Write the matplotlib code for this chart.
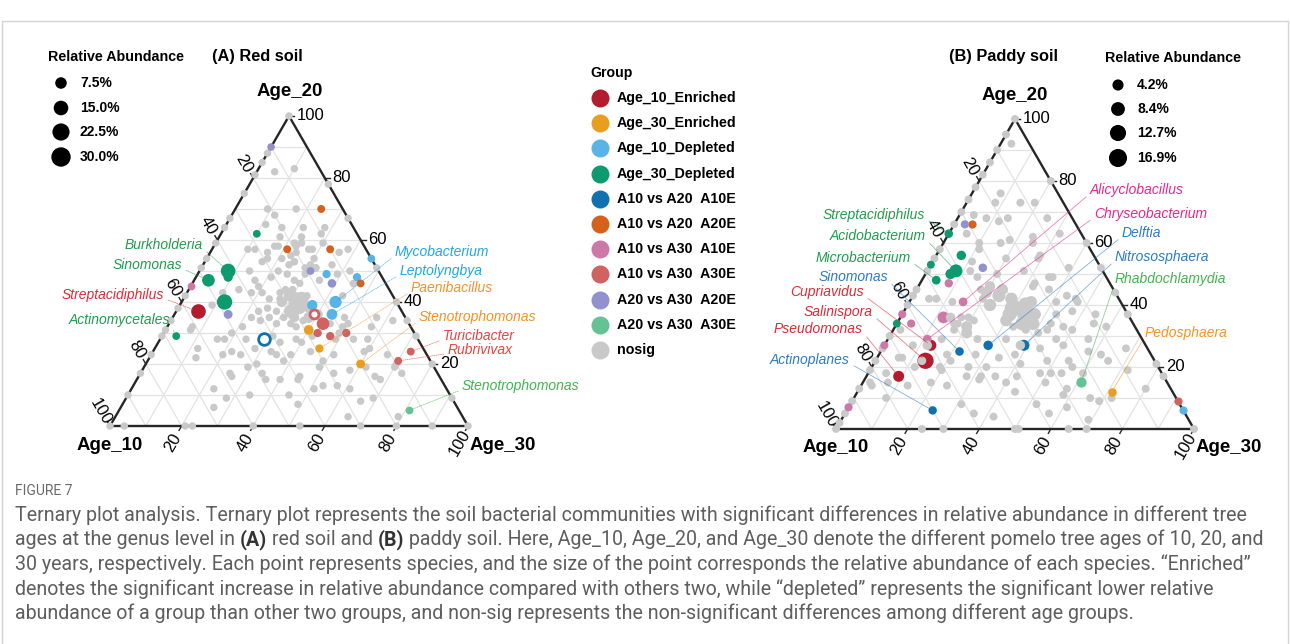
import numpy as np
import matplotlib.pyplot as plt
from matplotlib import font_manager

plt.rcParams['font.family'] = ['Liberation Sans', 'DejaVu Sans']

FIG_W, FIG_H = 1290, 644
H = np.sqrt(3) / 2

# ---- groups / colours
group_keys = ["E10", "E30", "D10", "D30", "AB10", "AB20", "AC10", "AC30", "BC20", "BC30", "NS"]
group_names = ["Age_10_Enriched", "Age_30_Enriched", "Age_10_Depleted", "Age_30_Depleted",
               "A10 vs A20  A10E", "A10 vs A20  A20E", "A10 vs A30  A10E", "A10 vs A30  A30E",
               "A20 vs A30  A20E", "A20 vs A30  A30E", "nosig"]
group_colors = ["#b21c2d", "#e89e1f", "#58b3e6", "#0c9a6e", "#1070b0", "#d6611d",
                "#cc79a8", "#d06262", "#9191cd", "#64c295", "#c9c9c9"]
label_colors = {"E10": "#dc2a36", "E30": "#f39322", "D10": "#1fa7e8", "D30": "#1e9d4d",
                "AB10": "#2b7cc6", "AC10": "#e8268e", "AC30": "#e8423f", "BC30": "#41b54c"}

# ---- (A) red soil : significant genera (group, Age_10, Age_20, Age_30, abundance %, label)
red_sig = [
    ("BC20", 10, 90, 0, 0.5, ""), ("AB20", 6, 70, 24, 1.0, ""), ("AB20", 10, 57, 33, 1.0, ""),
    ("AB20", 7, 46, 47, 1.0, ""), ("AB20", 22, 57, 21, 1.0, ""), ("D30", 28, 62, 10, 0.8, ""),
    ("D30", 43, 48, 9, 3.0, ""), ("D30", 42, 50, 8, 15.0, "Burkholderia"),
    ("D30", 49, 47, 4, 10.0, "Sinomonas"), ("AC10", 55, 45, 0, 0.8, ""),
    ("D30", 48, 40, 12, 17.0, ""), ("BC20", 49, 36, 15, 2.5, ""),
    ("E10", 57, 37, 6, 15.0, "Streptacidiphilus"), ("D30", 67, 29, 4, 0.8, "Actinomycetales"),
    ("D10", 0, 54, 46, 0.8, ""), ("D10", 15, 49, 36, 1.5, ""), ("D10", 7, 48, 45, 1.5, ""),
    ("BC20", 19, 50, 31, 0.8, ""), ("BC20", 15, 46, 39, 2.0, ""), ("D10", 24, 39, 37, 5.0, ""),
    ("D10", 17, 40, 43, 9.0, "Mycobacterium"), ("D10", 20, 36, 44, 6.0, "Leptolyngbya"),
    ("E30", 29, 31, 40, 4.0, ""), ("AC30", 24, 33, 43, 10.0, ""), ("AC30", 27, 30, 43, 1.5, ""),
    ("AC30", 24, 29, 47, 1.5, ""), ("AC30", 19, 30, 51, 1.5, ""),
    ("E30", 29, 25, 46, 1.5, "Paenibacillus"), ("E30", 20, 20, 60, 2.5, "Stenotrophomonas"),
    ("AC30", 4, 24, 72, 1.0, "Turicibacter"), ("AC30", 9, 21, 70, 1.0, "Rubrivivax"),
    ("BC30", 14, 5, 81, 0.8, "Stenotrophomonas"),
]
red_ring = [("AB10", 43, 28, 29, 12.0), ("AC30", 25, 36, 39, 5.0)]

red_nosig = [
    (33, 57, 10), (31, 57, 12), (28, 56, 16), (25, 58, 17), (24, 58, 18), (22, 55, 23), (22, 53, 25),
    (20, 56, 24), (16, 57, 27), (16, 54, 30), (25, 54, 21), (29, 54, 17), (31, 53, 16), (36, 50, 14),
    (36, 47, 17), (36, 45, 19), (31, 48, 21), (28, 50, 22), (26, 49, 25), (25, 47, 28), (24, 46, 30),
    (21, 49, 30), (17, 51, 32), (18, 52, 30), (18, 47, 35), (39, 43, 18), (36, 43, 21), (35, 41, 24),
    (31, 43, 26), (29, 44, 27), (27, 44, 29), (27, 42, 31), (27, 40, 33), (24, 42, 34), (32, 41, 27),
    (40, 37, 23), (37, 38, 25), (35, 37, 28), (34, 35, 31), (33, 33, 34), (32, 32, 36), (29, 34, 37),
    (37, 33, 30), (38, 35, 27), (41, 34, 25), (43, 35, 22), (47, 32, 21), (51, 30, 19), (56, 28, 16),
    (63, 25, 12), (61, 32, 7), (54, 28, 18), (57, 23, 20), (54, 24, 22), (52, 23, 25), (48, 28, 24),
    (47, 25, 28), (40, 29, 31), (39, 27, 34), (43, 24, 33), (42, 23, 35), (41, 21, 38), (38, 23, 39),
    (34, 28, 38), (33, 27, 40), (32, 24, 44), (29, 29, 42), (30, 21, 49), (26, 23, 51), (23, 28, 49),
    (19, 32, 49), (17, 35, 48), (22, 33, 45), (18, 28, 54), (17, 24, 59), (14, 28, 58), (11, 32, 57),
    (8, 35, 57), (19, 19, 62), (32, 19, 49), (29, 17, 54), (24, 18, 58), (58, 17, 25), (58, 16, 26),
    (52, 19, 29), (49, 20, 31), (49, 17, 34), (49, 15, 36), (45, 15, 40), (45, 10, 45), (56, 10, 34),
    (44, 7, 49), (34, 13, 53), (30, 13, 57), (27, 12, 61), (22, 9, 69), (26, 8, 66), (37, 12, 51),
    (65, 12, 23), (68, 6, 26), (40, 15, 45), (42, 44, 14), (47, 43, 10), (52, 39, 9), (63, 9, 28),
    (39, 16, 45), (4, 34, 62), (11, 23, 66), (15, 25, 60), (18, 16, 66), (17, 15, 68), (11, 19, 70),
    (10, 17, 73), (10, 20, 70), (32, 3, 65), (18, 3, 79), (9, 46, 45), (14, 42, 44), (17, 33, 50),
    (21, 30, 49), (7, 83, 10), (13, 82, 5), (13, 70, 17), (21, 70, 9), (20, 68, 12), (24, 65, 11),
    (20, 64, 16), (14, 64, 22), (8, 64, 28), (10, 62, 28), (22, 61, 17), (16, 61, 23), (19, 58, 23),
    (17, 59, 24), (19, 59, 22), (15, 57, 28), (11, 59, 30), (8, 56, 36), (12, 52, 36), (5, 57, 38),
    (8, 50, 42), (12, 49, 39), (22, 53, 25), (24, 52, 24), (20, 51, 29), (17, 51, 32), (62, 31, 7),
    (65, 22, 13),
]
red_nosig_edge = [
    (12, 88, 0), (15, 85, 0), (19, 81, 0), (25, 75, 0), (33, 67, 0), (36, 64, 0), (41, 59, 0),
    (46, 54, 0), (49, 51, 0), (58, 42, 0), (62, 38, 0), (66, 34, 0), (69, 31, 0), (71, 29, 0),
    (77, 23, 0), (83, 17, 0), (90, 10, 0), (96, 0, 4), (79, 0, 21), (77, 0, 23), (60, 0, 40),
    (47, 0, 53), (30, 0, 70), (20, 0, 80), (10, 0, 90), (0, 78, 22), (0, 67, 33), (0, 51, 49),
    (0, 40, 60), (0, 34, 66), (0, 29, 71), (0, 20, 80), (0, 9, 91), (100, 0, 0), (0, 100, 0), (0, 0, 100),
]
# big non-significant genera (Age_10, Age_20, Age_30, abundance %)
red_nosig_big = [(28, 39, 33, 28.0), (26, 41, 33, 14.0), (31, 37, 32, 12.0), (25, 38, 37, 8.0),
                 (29, 42, 29, 6.0), (24, 36, 40, 5.0), (32, 40, 28, 5.0), (27, 35, 38, 6.0),
                 (31, 35, 34, 4.0)]
red_front = []

# ---- (B) paddy soil
paddy_sig = [
    ("BC20", 31, 66, 3, 0.6, ""), ("AB20", 29, 66, 5, 0.6, ""),
    ("D30", 37, 63, 0, 1.0, "Streptacidiphilus"), ("D30", 37, 56, 7, 2.0, ""),
    ("D30", 41, 51, 8, 7.0, "Acidobacterium"), ("D30", 43, 50, 7, 3.0, ""),
    ("D30", 48, 48, 4, 1.2, "Microbacterium"), ("D30", 47, 53, 0, 0.3, ""), ("D30", 66, 34, 0, 0.3, ""),
    ("BC20", 33, 52, 15, 1.0, ""), ("AC10", 45, 47, 8, 0.8, ""),
    ("AC10", 44, 41, 15, 1.2, "Alicyclobacillus"), ("AC10", 52, 36, 12, 5.0, ""),
    ("AC10", 63, 37, 0, 0.6, ""), ("AC10", 62, 34, 4, 0.6, ""),
    ("AC10", 60, 29, 11, 1.0, "Chryseobacterium"), ("E10", 60, 27, 13, 4.0, "Cupriavidus"),
    ("E10", 64, 22, 14, 13.0, "Salinispora"), ("E10", 74, 17, 9, 4.0, "Pseudomonas"),
    ("AC10", 73, 27, 0, 0.5, ""), ("AB10", 53, 25, 22, 1.0, "Sinomonas"),
    ("AB10", 44, 27, 29, 2.0, "Delftia"), ("AB10", 34, 27, 39, 4.0, "Nitrososphaera"),
    ("AB10", 70, 6, 24, 0.8, "Actinoplanes"), ("AC10", 93, 7, 0, 0.6, ""),
    ("BC30", 24, 15, 61, 3.0, "Rhabdochlamydia"), ("E30", 17, 12, 71, 1.0, "Pedosphaera"),
    ("AC30", 0, 9, 91, 0.6, ""), ("D10", 0, 6, 94, 0.6, ""),
]
paddy_ring = []

paddy_nosig = [
    (5, 92, 3), (16, 76, 8), (12, 73, 15), (19, 73, 8), (18, 68, 14), (21, 67, 12), (24, 68, 8),
    (7, 68, 25), (15, 60, 25), (15, 56, 29), (30, 60, 10), (31, 58, 11), (24, 60, 16), (25, 55, 20),
    (30, 50, 20), (35, 54, 11), (37, 51, 12), (36, 49, 15), (22, 51, 27), (21, 47, 32), (16, 49, 35),
    (18, 45, 37), (9, 52, 39), (12, 42, 46), (9, 37, 54), (11, 34, 55), (8, 33, 59), (6, 26, 68),
    (13, 22, 65), (17, 25, 58), (23, 27, 50), (24, 29, 47), (30, 26, 44), (28, 31, 41), (31, 32, 37),
    (34, 33, 33), (38, 29, 33), (38, 24, 38), (43, 23, 34), (38, 21, 41), (34, 18, 48), (28, 18, 54),
    (31, 11, 58), (24, 10, 66), (24, 20, 56), (22, 18, 60), (52, 16, 32), (57, 22, 21), (57, 24, 19),
    (53, 20, 27), (48, 20, 32), (49, 24, 27), (45, 36, 19), (44, 35, 21), (49, 34, 17), (51, 32, 17),
    (56, 29, 15), (70, 23, 7), (68, 20, 12), (78, 15, 7), (73, 14, 13), (66, 15, 19), (61, 19, 20),
    (83, 14, 3), (23, 34, 43), (28, 37, 35), (20, 37, 43), (37, 45, 18), (47, 36, 17), (50, 34, 16),
    (46, 29, 25), (25, 32, 43), (20, 33, 47), (15, 38, 47), (24, 22, 54), (30, 22, 48), (41, 17, 42),
    (47, 17, 36), (51, 17, 32), (45, 15, 40), (44, 12, 44), (61, 8, 31), (38, 5, 57), (29, 13, 58),
    (59, 5, 36), (61, 20, 19), (71, 23, 6), (77, 18, 5), (6, 63, 31), (14, 62, 24), (21, 61, 18),
    (16, 55, 29), (15, 49, 36), (22, 46, 32), (14, 43, 43), (12, 41, 47), (18, 41, 41), (18, 32, 50),
    (15, 29, 56), (14, 24, 62), (31, 18, 51), (40, 8, 52), (32, 7, 61), (28, 3, 69), (22, 9, 69),
    (18, 10, 72), (7, 13, 80), (9, 19, 72), (38, 42, 20), (47, 41, 12), (65, 27, 8), (66, 32, 2),
    (53, 42, 5), (81, 10, 9), (83, 15, 2), (62, 14, 24), (55, 17, 28), (54, 4, 42), (34, 15, 51),
    (51, 42, 7), (8, 73, 19), (27, 69, 4), (32, 63, 5),
]
paddy_nosig_edge = [
    (5, 95, 0), (10, 90, 0), (14, 86, 0), (18, 82, 0), (22, 78, 0), (26, 74, 0), (30, 70, 0),
    (34, 66, 0), (42, 58, 0), (45, 55, 0), (49, 51, 0), (55, 45, 0), (57, 43, 0), (60, 40, 0),
    (70, 30, 0), (74, 26, 0), (78, 22, 0), (81, 19, 0), (87, 13, 0), (91, 9, 0), (95, 5, 0),
    (98, 2, 0), (76, 0, 24), (70, 0, 30), (50, 0, 50), (49, 0, 51), (35, 0, 65), (30, 0, 70),
    (0, 80, 20), (0, 60, 40), (0, 52, 48), (0, 44, 56), (0, 37, 63), (0, 21, 79), (0, 17, 83),
    (100, 0, 0), (0, 100, 0), (0, 0, 100),
]
paddy_nosig_big = [(31, 39, 30, 14.0), (27, 40, 33, 11.0), (33, 43, 24, 7.0), (37, 40, 23, 6.0),
                   (28, 34, 38, 7.0), (31, 34, 35, 8.0), (35, 35, 30, 5.0), (29, 37, 34, 8.0),
                   (33, 37, 30, 9.0), (30, 42, 28, 6.0), (26, 37, 37, 6.0), (47, 33, 20, 4.0),
                   (48, 31, 21, 4.0), (31, 45, 24, 4.0), (34, 46, 20, 3.0), (25, 41, 34, 5.0),
                   (36, 44, 20, 4.0)]
paddy_front = [(61, 27, 12, 2.0), (65, 22, 13, 1.0), (35, 27, 38, 2.0), (50, 36, 14, 2.0)]

red_size_breaks = [7.5, 15.0, 22.5, 30.0]
paddy_size_breaks = [4.2, 8.4, 12.7, 16.9]

# ---- layout (figure pixels, origin top-left)
red_panel = dict(x0=110, base=426, w=358)
paddy_panel = dict(x0=836, base=429, w=358)
red_size_par = (7.2, 10.8)      # dot diameter px = sqrt(d0^2 + k * abundance)
paddy_size_par = (7.6, 15.9)

red_label_pos = {
    ("Burkholderia", "D30"): (203, 245, "r"), ("Sinomonas", "D30"): (182, 265, "r"),
    ("Streptacidiphilus", "E10"): (164, 295, "r"), ("Actinomycetales", "D30"): (170, 320, "r"),
    ("Mycobacterium", "D10"): (395, 252, "l"), ("Leptolyngbya", "D10"): (400, 271, "l"),
    ("Paenibacillus", "E30"): (411, 288, "l"), ("Stenotrophomonas", "E30"): (419, 317, "l"),
    ("Turicibacter", "AC30"): (443, 336, "l"), ("Rubrivivax", "AC30"): (448, 350, "l"),
    ("Stenotrophomonas", "BC30"): (462, 386, "l"),
}
paddy_label_pos = {
    ("Streptacidiphilus", "D30"): (925, 215, "r"), ("Acidobacterium", "D30"): (926, 236, "r"),
    ("Microbacterium", "D30"): (911, 258, "r"), ("Sinomonas", "AB10"): (888, 277, "r"),
    ("Cupriavidus", "E10"): (864, 292, "r"), ("Salinispora", "E10"): (873, 312, "r"),
    ("Pseudomonas", "E10"): (863, 329, "r"), ("Actinoplanes", "AB10"): (850, 360, "r"),
    ("Alicyclobacillus", "AC10"): (1090, 190, "l"), ("Chryseobacterium", "AC10"): (1094, 214, "l"),
    ("Delftia", "AB10"): (1122, 233, "l"), ("Nitrososphaera", "AB10"): (1115, 257, "l"),
    ("Rhabdochlamydia", "BC30"): (1115, 279, "l"), ("Pedosphaera", "E30"): (1145, 333, "l"),
}

caption_lines = [
    [("Ternary plot analysis. Ternary plot represents the soil bacterial communities with significant "
      "differences in relative abundance in different tree", "normal")],
    [("ages at the genus level in ", "normal"), ("(A)", "bold"), (" red soil and ", "normal"), ("(B)", "bold"),
     (" paddy soil. Here, Age_10, Age_20, and Age_30 denote the different pomelo tree ages of 10, 20, and", "normal")],
    [("30 years, respectively. Each point represents species, and the size of the point corresponds the "
      "relative abundance of each species. \u201cEnriched\u201d", "normal")],
    [("denotes the significant increase in relative abundance compared with others two, while "
      "\u201cdepleted\u201d represents the significant lower relative", "normal")],
    [("abundance of a group than other two groups, and non-sig represents the non-significant "
      "differences among different age groups.", "normal")],
]

NS = group_colors[-1]
COL = dict(zip(group_keys, group_colors))

installed = {f.name for f in font_manager.fontManager.ttflist}
cap_font = next(f for f in ["Liberation Sans Narrow", "Roboto", "Lato", "DejaVu Sans"] if f in installed)


def tern(points):
    p = np.asarray(points, dtype=float)[:, :3]
    s = p.sum(axis=1)
    b = p[:, 1] / s
    c = p[:, 2] / s
    return c + b / 2, b * H


def dot_area(ab, d0, k):
    d = np.sqrt(d0 ** 2 + k * np.asarray(ab, dtype=float))
    return (d * 0.72) ** 2


def fpx(x, y):
    return x / FIG_W, 1 - y / FIG_H


fig = plt.figure(figsize=(12.9, 6.44), dpi=100)
fig.patch.set_facecolor("white")

bg = fig.add_axes([0, 0, 1, 1])
bg.set_xlim(0, FIG_W)
bg.set_ylim(FIG_H, 0)
bg.axis("off")
bg.plot([2, 1288], [21, 21], color="#d4d4d4", lw=1)
bg.plot([2, 2], [21, 644], color="#d4d4d4", lw=1)
bg.plot([1288, 1288], [21, 644], color="#d4d4d4", lw=1)


def draw_panel(panel, sig, ring, nosig, edge, big, front, label_pos, size_par, seg_ls):
    w = panel["w"]
    ax = fig.add_axes([panel["x0"] / FIG_W, (FIG_H - panel["base"]) / FIG_H, w / FIG_W, w * H / FIG_H])
    ax.set_xlim(0, 1)
    ax.set_ylim(0, H)
    ax.axis("off")
    ax.patch.set_alpha(0)

    for v in range(10, 100, 10):
        for p, q in [((100 - v, v, 0), (0, v, 100 - v)),
                     ((100 - v, 0, v), (0, 100 - v, v)),
                     ((v, 0, 100 - v), (v, 100 - v, 0))]:
            xs, ys = tern([p, q])
            ax.plot(xs, ys, color="#e3e3e3", lw=0.9, zorder=1)
    xs, ys = tern([(100, 0, 0), (0, 0, 100), (0, 100, 0), (100, 0, 0)])
    ax.plot(xs, ys, color="#262626", lw=1.7, zorder=2, clip_on=False)

    tl = 5.0 / w
    for v in (20, 40, 60, 80, 100):
        x, y = [t[0] for t in tern([(0, v, 100 - v)])]
        ax.plot([x, x + tl], [y, y], color="#262626", lw=1.0, zorder=2, clip_on=False)
        ax.annotate(str(v), (x, y), xytext=(5.5, 0), textcoords="offset points", ha="left",
                    va="center", fontsize=12, annotation_clip=False)
        x, y = [t[0] for t in tern([(v, 100 - v, 0)])]
        ax.plot([x, x - 0.5 * tl], [y, y + H * tl], color="#262626", lw=1.0, zorder=2, clip_on=False)
        ax.annotate(str(v), (x, y), xytext=(-6.5, 10.5), textcoords="offset points", ha="center",
                    va="center", rotation=-60, rotation_mode="anchor", fontsize=12, annotation_clip=False)
        x, y = [t[0] for t in tern([(100 - v, 0, v)])]
        ax.plot([x, x - 0.5 * tl], [y, y - H * tl], color="#262626", lw=1.0, zorder=2, clip_on=False)
        ax.annotate(str(v), (x, y), xytext=(-6.0, -12.0), textcoords="offset points", ha="center",
                    va="center", rotation=60, rotation_mode="anchor", fontsize=12, annotation_clip=False)

    small = nosig + edge
    xs, ys = tern(small)
    ax.scatter(xs, ys, s=dot_area(np.full(len(small), 0.3), *size_par), c=NS, lw=0, zorder=3, clip_on=False)
    xs, ys = tern(big)
    ax.scatter(xs, ys, s=dot_area([b[3] for b in big], *size_par), c=NS, lw=0, zorder=3)

    for g in group_keys[:-1]:
        pts = [r for r in sig if r[0] == g]
        if pts:
            xs, ys = tern([r[1:4] for r in pts])
            ax.scatter(xs, ys, s=dot_area([r[4] for r in pts], *size_par), c=COL[g], lw=0,
                       zorder=4, clip_on=False)
    for r in ring:
        xs, ys = tern([r[1:4]])
        ax.scatter(xs, ys, s=dot_area([r[4]], *size_par) * 0.75, facecolor="white",
                   edgecolor=COL[r[0]], lw=2.0, zorder=4)
    if front:
        xs, ys = tern(front)
        ax.scatter(xs, ys, s=dot_area([f[3] for f in front], *size_par), c=NS, lw=0, zorder=5)

    for g, a10, a20, a30, ab, name in sig:
        if not name:
            continue
        tx, ty, side = label_pos[(name, g)]
        xs, ys = tern([(a10, a20, a30)])
        col = label_colors[g]
        ax.annotate(name, (xs[0], ys[0]), xytext=(tx, FIG_H - ty), textcoords="figure pixels",
                    ha="right" if side == "r" else "left", va="center", fontsize=10,
                    fontstyle="italic", color=col, annotation_clip=False, zorder=6,
                    arrowprops=dict(arrowstyle="-", color=col, lw=0.6, alpha=0.6, shrinkA=1,
                                    shrinkB=3, linestyle=seg_ls,
                                    relpos=(1, 0.25) if side == "r" else (0, 0.25)))
    return ax


draw_panel(red_panel, red_sig, red_ring, red_nosig, red_nosig_edge, red_nosig_big, red_front,
           red_label_pos, red_size_par, (0, (1.5, 1.2)))
draw_panel(paddy_panel, paddy_sig, paddy_ring, paddy_nosig, paddy_nosig_edge, paddy_nosig_big,
           paddy_front, paddy_label_pos, paddy_size_par, "-")

# axis titles
for (x, y, txt, ha) in [(290, 92, "Age_20", "center"), (110, 446, "Age_10", "center"),
                        (470, 446, "Age_30", "left"), (1015, 95, "Age_20", "center"),
                        (836, 448, "Age_10", "center"), (1196, 448, "Age_30", "left")]:
    fig.text(*fpx(x, y), txt, ha=ha, va="center", fontsize=13.4, fontweight="bold")

# panel titles
fig.text(*fpx(212, 57), "(A) Red soil", ha="left", va="center", fontsize=11.8, fontweight="bold")
fig.text(*fpx(949, 56), "(B) Paddy soil", ha="left", va="center", fontsize=11.8, fontweight="bold")

# size legends
for (x0, y0, breaks, par, ys) in [(48, 57, red_size_breaks, red_size_par, [83, 108, 132, 157]),
                                  (1105, 58, paddy_size_breaks, paddy_size_par, [85, 109, 133, 158])]:
    fig.text(*fpx(x0, y0), "Relative Abundance", ha="left", va="center", fontsize=10.3,
             fontweight="bold")
    bg.scatter([x0 + 13] * len(breaks), ys, s=dot_area(breaks, *par), c="black", lw=0)
    for b, y in zip(breaks, ys):
        bg.text(x0 + 32, y, "%.1f%%" % b, ha="left", va="center", fontsize=10, fontweight="bold")

# group legend
bg.text(590, 73, "Group", ha="left", va="center", fontsize=10.2, fontweight="bold")
for i, (name, col) in enumerate(zip(group_names, group_colors)):
    y = 98 + i * 25.2
    bg.scatter([600], [y], s=(18 * 0.72) ** 2, c=col, lw=0)
    bg.text(617, y, name, ha="left", va="center", fontsize=10.3, fontweight="bold")

# caption
renderer = fig.canvas.get_renderer()
fig.text(*fpx(15, 491), "FIGURE 7", ha="left", va="center", fontsize=10, color="#6a6a6a",
         family=[cap_font, "DejaVu Sans"])
probe = fig.text(0, 0, caption_lines[0][0][0], fontsize=12, family=[cap_font, "DejaVu Sans"])
cap_size = 12 * 1225.0 / probe.get_window_extent(renderer).width
probe.remove()
for i, segs in enumerate(caption_lines):
    x = 15.0
    y = 515 + i * 24.6
    for txt, wt in segs:
        t = fig.text(*fpx(x, y), txt, ha="left", va="center", fontsize=cap_size, fontweight=wt,
                     color="#333333" if wt == "bold" else "#5e5e5e", family=[cap_font, "DejaVu Sans"])
        x += t.get_window_extent(renderer).width

fig.savefig("out.png", dpi=100, facecolor="white")
